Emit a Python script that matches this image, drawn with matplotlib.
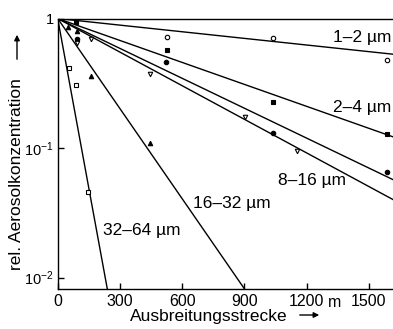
import matplotlib
matplotlib.use("Agg")
import matplotlib.pyplot as plt

plt.rcParams["font.family"] = ["Liberation Sans", "DejaVu Sans"]
plt.rcParams["mathtext.fontset"] = "custom"
plt.rcParams["mathtext.rm"] = "Liberation Sans"

# Messpunkte (Ausbreitungsstrecke in m, rel. Konzentration)
x_1_2 = [525, 1040, 1590]
y_1_2 = [0.716, 0.703, 0.479]
x_2_4 = [87, 526, 1037, 1589]
y_2_4 = [0.933, 0.569, 0.228, 0.128]
x_4_8 = [92, 522, 1037, 1588]
y_4_8 = [0.695, 0.465, 0.131, 0.065]
x_8_16 = [92, 161, 445, 903, 1152]
y_8_16 = [0.646, 0.692, 0.372, 0.175, 0.094]
x_16_32 = [48, 92, 161, 445]
y_16_32 = [0.865, 0.794, 0.360, 0.109]
x_32_64 = [54, 87, 145]
y_32_64 = [0.413, 0.307, 0.046]

# Ausgleichsgeraden: Start (0, 1), Ende (x, y)
fit_x0 = 0
fit_y0 = 1.0
fit_end_x = [1617, 1617, 1617, 1617, 900, 239]
fit_end_y = [0.53, 0.122, 0.057, 0.040, 0.0082, 0.0082]

labels = ["1–2 µm", "2–4 µm", "8–16 µm", "16–32 µm", "32–64 µm"]
label_x = [1608, 1608, 1062, 653, 219]
label_y = [0.708, 0.207, 0.0557, 0.037, 0.0229]
label_ha = ["right", "right", "left", "left", "left"]

fig = plt.figure(figsize=(3.93, 3.29), dpi=100)
ax = fig.add_axes([57.7 / 393, 40.3 / 329, 1 - 57.7 / 393, 270.2 / 329])
ax.set_yscale("log")
ax.set_xlim(0, 1617)
ax.set_ylim(0.0082, 1.0)

for xe, ye in zip(fit_end_x, fit_end_y):
    ax.plot([fit_x0, xe], [fit_y0, ye], color="black", lw=1.0)

mk = dict(ls="none", color="black", ms=3.2, mew=0.8, clip_on=False)
ax.plot(x_1_2, y_1_2, marker="o", mfc="white", **mk)
ax.plot(x_2_4, y_2_4, marker="s", mfc="black", **mk)
ax.plot(x_4_8, y_4_8, marker="o", mfc="black", **mk)
ax.plot(x_8_16, y_8_16, marker="v", mfc="white", **mk)
ax.plot(x_16_32, y_16_32, marker="^", mfc="black", **mk)
ax.plot(x_32_64, y_32_64, marker="s", mfc="white", **mk)

for txt, tx, ty, ha in zip(labels, label_x, label_y, label_ha):
    ax.text(tx, ty, txt, fontsize=12.5, ha=ha, va="center")

ax.set_xticks([0, 300, 600, 900, 1200, 1500])
ax.set_xticklabels(["0", "300", "600", "900", "1200", "1500"])
ax.set_yticks([1, 0.1, 0.01])
ax.set_yticklabels(["1", r"$\mathregular{10^{-1}}$", r"$\mathregular{10^{-2}}$"])
ax.yaxis.set_minor_locator(matplotlib.ticker.NullLocator())
ax.tick_params(direction="in", length=4, width=1, labelsize=11.5, pad=4)
ax.tick_params(axis="y", labelsize=10.5, pad=3)
ax.text(1337, -0.0666, "m", transform=ax.get_xaxis_transform(), fontsize=11.5,
        ha="center", va="baseline")

ax.spines["right"].set_visible(False)
for s in ["left", "bottom", "top"]:
    ax.spines[s].set_linewidth(1.0)

fig.text(0.53, 1 - 316 / 329, "Ausbreitungsstrecke", fontsize=12.5, ha="center", va="center")
fig.text(17 / 393, 0.47, "rel. Aerosolkonzentration", fontsize=12.5, ha="center",
         va="center", rotation=90)
# Pfeile an den Achsenbeschriftungen
fig.add_artist(matplotlib.patches.FancyArrowPatch((297 / 393, 1 - 315 / 329), (322 / 393, 1 - 315 / 329),
               transform=fig.transFigure, arrowstyle="-|>", mutation_scale=8, lw=1, color="black"))
fig.add_artist(matplotlib.patches.FancyArrowPatch((17 / 393, 1 - 62 / 329), (17 / 393, 1 - 32 / 329),
               transform=fig.transFigure, arrowstyle="-|>", mutation_scale=8, lw=1, color="black"))

fig.savefig("out.png", dpi=100)
